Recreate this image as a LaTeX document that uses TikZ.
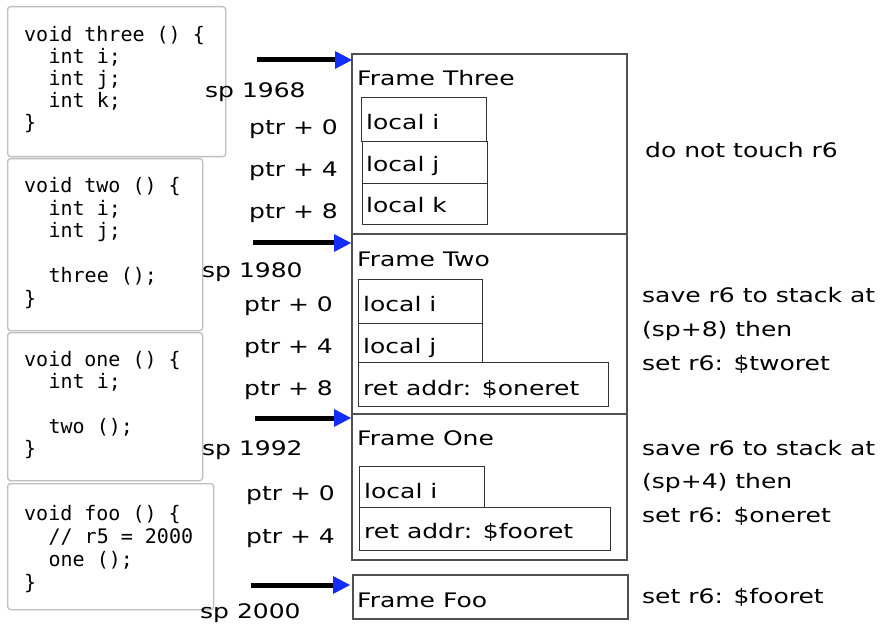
\documentclass[tikz,border=0pt]{standalone}
\usepackage{fontspec}
\newfontfamily\handfont[FakeStretch=1.25]{DejaVu Sans}
\newfontfamily\codefont{DejaVu Sans Mono}
\usetikzlibrary{arrows.meta}
\definecolor{arrowblue}{RGB}{20,45,255}
\definecolor{framegray}{RGB}{80,80,80}
\definecolor{codegray}{RGB}{190,190,190}
\begin{document}
\begin{tikzpicture}[x=1pt,y=-1pt,
 codebox/.style={draw=codegray, line width=1.3pt, rounded corners=3pt, anchor=north west, inner sep=0pt},
 code/.style={font=\codefont\fontsize{20}{22}\selectfont, anchor=base west, inner sep=0pt},
 hand/.style={font=\handfont\fontsize{20}{24}\selectfont, anchor=base west, inner sep=0pt},
 frame/.style={draw=framegray, line width=1.6pt, anchor=north west, inner sep=0pt},
 cell/.style={draw=black!80, line width=1.3pt, anchor=north west, inner sep=0pt},
 sparrow/.style={line width=5pt, -{Triangle[length=17pt,width=18pt,color=arrowblue,fill=arrowblue,line width=0pt]}}
]
\path[use as bounding box] (0,0) rectangle (886,628);

% code boxes
\node[codebox, minimum width=218pt, minimum height=150pt] (cb1) at (7,6) {};
\node[codebox, minimum width=195pt, minimum height=172pt] (cb2) at (7,158) {};
\node[codebox, minimum width=195pt, minimum height=148pt] (cb3) at (7,332) {};
\node[codebox, minimum width=206pt, minimum height=126pt] (cb4) at (7,483) {};

\node[code] (t1a) at (24,42) {void three () \{};
\node[code] (t1b) at (48.4,64) {int i;};
\node[code] (t1c) at (48.4,86) {int j;};
\node[code] (t1d) at (48.4,108) {int k;};
\node[code] (t1e) at (24,130) {\}};

\node[code] (t2a) at (24,193) {void two () \{};
\node[code] (t2b) at (48.4,215.5) {int i;};
\node[code] (t2c) at (48.4,238) {int j;};
\node[code] (t2d) at (48.4,283) {three ();};
\node[code] (t2e) at (24,305.5) {\}};

\node[code] (t3a) at (24,366) {void one () \{};
\node[code] (t3b) at (48.4,388.5) {int i;};
\node[code] (t3c) at (48.4,433.5) {two ();};
\node[code] (t3d) at (24,455) {\}};

\node[code] (t4a) at (24,520) {void foo () \{};
\node[code] (t4b) at (48.4,543) {// r5 = 2000};
\node[code] (t4c) at (48.4,566) {one ();};
\node[code] (t4d) at (24,589) {\}};

% frames
\node[frame, minimum width=275pt, minimum height=180pt] (f3) at (351,53) {};
\node[frame, minimum width=275pt, minimum height=180pt] (f2) at (351,233) {};
\node[frame, minimum width=275pt, minimum height=146pt] (f1) at (351,413) {};
\node[frame, minimum width=275pt, minimum height=44pt] (ffoo) at (352,574) {};

\node[hand] (f3t) at (357,86) {Frame Three};
\node[hand] (f2t) at (357,267) {Frame Two};
\node[hand] (f1t) at (357,445) {Frame One};
\node[hand] (fft) at (357,607) {Frame Foo};

% cells frame three
\node[cell, minimum width=125pt, minimum height=44pt] (c3i) at (361,97) {};
\node[cell, minimum width=125pt, minimum height=42pt] (c3j) at (362,141) {};
\node[cell, minimum width=125pt, minimum height=41pt] (c3k) at (362,183) {};
\node[hand] (c3it) at (366,130) {local i};
\node[hand] (c3jt) at (366,172) {local j};
\node[hand] (c3kt) at (366,213) {local k};

% cells frame two
\node[cell, minimum width=124pt, minimum height=44pt] (c2i) at (358,279) {};
\node[cell, minimum width=124pt, minimum height=39pt] (c2j) at (358,323) {};
\node[cell, minimum width=250pt, minimum height=44pt] (c2r) at (358,362) {};
\node[hand] (c2it) at (363,312) {local i};
\node[hand] (c2jt) at (363,353) {local j};
\node[hand] (c2rt) at (363,395) {ret addr: \$oneret};

% cells frame one
\node[cell, minimum width=125pt, minimum height=41pt] (c1i) at (359,466) {};
\node[cell, minimum width=251pt, minimum height=43pt] (c1r) at (359,507) {};
\node[hand] (c1it) at (364,498) {local i};
\node[hand] (c1rt) at (364,538) {ret addr: \$fooret};

% sp / ptr labels
\node[hand] (sp3) at (205,98) {sp 1968};
\node[hand] (p30) at (249,135) {ptr + 0};
\node[hand] (p34) at (249,177) {ptr + 4};
\node[hand] (p38) at (249,219) {ptr + 8};

\node[hand] (sp2) at (202,278) {sp 1980};
\node[hand] (p20) at (244,312) {ptr + 0};
\node[hand] (p24) at (244,353) {ptr + 4};
\node[hand] (p28) at (244,395) {ptr + 8};

\node[hand] (sp1) at (202,455) {sp 1992};
\node[hand] (p10) at (246,500) {ptr + 0};
\node[hand] (p14) at (246,543) {ptr + 4};

\node[hand] (spf) at (200,618) {sp 2000};

% arrows
\coordinate (a3s) at (257,60);  \coordinate (a3e) at (352,60);
\coordinate (a2s) at (253,243); \coordinate (a2e) at (351,243);
\coordinate (a1s) at (255,418); \coordinate (a1e) at (351,418);
\coordinate (afs) at (251,585); \coordinate (afe) at (350,585);
\draw[sparrow] (a3s) -- (a3e);
\draw[sparrow] (a2s) -- (a2e);
\draw[sparrow] (a1s) -- (a1e);
\draw[sparrow] (afs) -- (afe);

% notes
\node[hand] (n3) at (645,158) {do not touch r6};
\node[hand] (n2a) at (642,303) {save r6 to stack at};
\node[hand] (n2b) at (642,337) {(sp+8) then};
\node[hand] (n2c) at (642,370) {set r6: \$tworet};
\node[hand] (n1a) at (642,455) {save r6 to stack at};
\node[hand] (n1b) at (642,488) {(sp+4) then};
\node[hand] (n1c) at (642,522) {set r6: \$oneret};
\node[hand] (nf) at (642,603) {set r6: \$fooret};
\end{tikzpicture}
\end{document}
